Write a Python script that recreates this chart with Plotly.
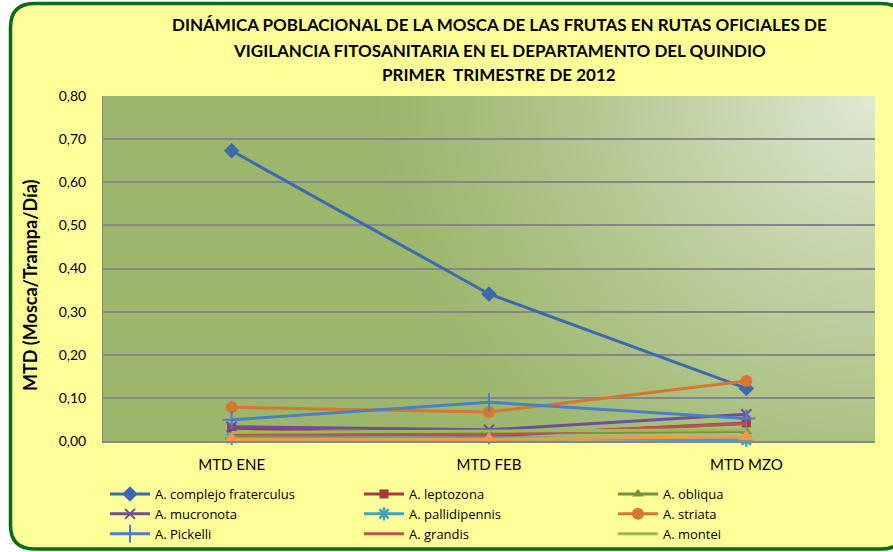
import base64, struct, zlib
import numpy as np
import plotly.graph_objects as go

# ---------------- data ----------------
months = ["MTD ENE", "MTD FEB", "MTD MZO"]
series_names = ["A. complejo fraterculus", "A. leptozona", "A. obliqua", "A. mucronota",
                "A. pallidipennis", "A. striata", "A. Pickelli", "A. grandis", "A. montei"]
fraterculus = [0.673, 0.341, 0.122]
leptozona = [0.030, 0.012, 0.042]
obliqua = [0.010, 0.018, 0.022]
mucronota = [0.033, 0.026, 0.062]
pallidipennis = [0.006, 0.008, 0.002]
striata = [0.078, 0.067, 0.139]
pickelli = [0.049, 0.090, 0.052]
grandis = [0.017, 0.014, 0.040]
montei = [0.020, 0.023, 0.026]
extra_series = [0.004, 0.004, 0.010]   # orange series drawn without legend entry
tick_vals = [0.0, 0.1, 0.2, 0.3, 0.4, 0.5, 0.6, 0.7, 0.8]

# ---------------- layout geometry (pixels) ----------------
W, H = 893, 552
L, R, T, B = 103, 875, 96, 441
pw, ph = R - L, B - T


def px(x):
    return (x - L) / pw


def py(y):
    return (B - y) / ph


FONT = "Lato"
LFONT = "Open Sans"

fig = go.Figure()

styles = [
    (fraterculus, "#3D6AAF", dict(symbol="diamond", size=12), "legend"),
    (leptozona, "#A33B3B", dict(symbol="square", size=9), "legend2"),
    (obliqua, "#77933C", dict(symbol="triangle-up", size=10), "legend3"),
    (mucronota, "#6E4E9E", dict(symbol="x-thin-open", size=10, line=dict(width=2, color="#6E4E9E")), "legend"),
    (pallidipennis, "#3DA4C2", dict(symbol="asterisk-open", size=11, line=dict(width=2.5, color="#3DA4C2")), "legend2"),
    (striata, "#D7772E", dict(symbol="circle", size=12), "legend3"),
    (pickelli, "#4C80C6", dict(symbol="cross-thin-open", size=13, line=dict(width=2, color="#4C80C6")), "legend"),
    (grandis, "#C0504D", None, "legend2"),
    (montei, "#9BBB59", None, "legend3"),
]

for name, (vals, col, mk, lg) in zip(series_names, styles):
    if mk is None:
        fig.add_trace(go.Scatter(x=months, y=vals, name=name, mode="lines", legend=lg,
                                 cliponaxis=False, line=dict(color=col, width=3)))
    else:
        m = dict(color=col)
        m.update(mk)
        fig.add_trace(go.Scatter(x=months, y=vals, name=name, mode="lines+markers", legend=lg,
                                 cliponaxis=False, line=dict(color=col, width=3), marker=m))

fig.add_trace(go.Scatter(x=months, y=extra_series, name="", mode="lines+markers",
                         showlegend=False, cliponaxis=False, line=dict(color="#F79646", width=3),
                         marker=dict(symbol="triangle-up", size=14, color="#F79646")))

# ---------------- gradient background image for plot area ----------------
gw, gh = 193, 86
u = (np.arange(gw) + 0.5) / gw
w = (np.arange(gh) + 0.5) / gh
U, Wm = np.meshgrid(u, w)
d = np.sqrt(((1 - U) * pw) ** 2 + (Wm * ph) ** 2)
t = np.clip(1 - d / 520.0, 0, 1) ** 1.3
dark = np.array([156, 182, 108], float)
light = np.array([224, 234, 214], float)
img = (dark[None, None, :] + (light - dark)[None, None, :] * t[..., None]).astype(np.uint8)


def png_bytes(a):
    h, wdt, _ = a.shape
    raw = b"".join(b"\x00" + a[i].tobytes() for i in range(h))

    def chunk(tag, data):
        c = struct.pack(">I", len(data)) + tag + data
        return c + struct.pack(">I", zlib.crc32(tag + data) & 0xFFFFFFFF)
    return (b"\x89PNG\r\n\x1a\n" + chunk(b"IHDR", struct.pack(">IIBBBBB", wdt, h, 8, 2, 0, 0, 0))
            + chunk(b"IDAT", zlib.compress(raw, 9)) + chunk(b"IEND", b""))


src = "data:image/png;base64," + base64.b64encode(png_bytes(img)).decode()
fig.add_layout_image(dict(source=src, xref="paper", yref="paper", x=0, y=1, sizex=1, sizey=1,
                          sizing="stretch", layer="below", xanchor="left", yanchor="top"))

# ---------------- outer rounded border ----------------
bx0, by0, bx1, by1, rad = 10.5, 3.5, 905, 549, 24


def rr_path(x0, y0, x1, y1, r):
    return (f"M {px(x0 + r)},{py(y0)} L {px(x1 - r)},{py(y0)} "
            f"Q {px(x1)},{py(y0)} {px(x1)},{py(y0 + r)} L {px(x1)},{py(y1 - r)} "
            f"Q {px(x1)},{py(y1)} {px(x1 - r)},{py(y1)} L {px(x0 + r)},{py(y1)} "
            f"Q {px(x0)},{py(y1)} {px(x0)},{py(y1 - r)} L {px(x0)},{py(y0 + r)} "
            f"Q {px(x0)},{py(y0)} {px(x0 + r)},{py(y0)} Z")


outer = f"M {px(-5)},{py(-5)} L {px(W + 20)},{py(-5)} L {px(W + 20)},{py(H + 5)} L {px(-5)},{py(H + 5)} Z "
fig.add_shape(type="path", path=outer + rr_path(bx0, by0, bx1, by1, rad), xref="paper", yref="paper",
              fillrule="evenodd", fillcolor="white", line=dict(width=0), layer="below")
fig.add_shape(type="path", path=rr_path(bx0, by0, bx1, by1, rad), xref="paper", yref="paper",
              line=dict(color="#0B6A12", width=3.5), layer="above")

# ---------------- titles ----------------
titles = [("DINÁMICA POBLACIONAL DE LA MOSCA DE LAS FRUTAS EN RUTAS OFICIALES DE", 25),
          ("VIGILANCIA FITOSANITARIA EN EL DEPARTAMENTO DEL QUINDIO", 50),
          ("PRIMER  TRIMESTRE DE 2012", 75)]
for txt, yy in titles:
    fig.add_annotation(text=f"<b>{txt}</b>", x=px(499), y=py(yy), xref="paper", yref="paper",
                       showarrow=False, xanchor="center", yanchor="middle",
                       font=dict(family=FONT, size=17, color="#000000"))

fig.add_annotation(text="<b>MTD (Mosca/Trampa/Día)</b>", x=px(30), y=py(286), xref="paper", yref="paper",
                   showarrow=False, textangle=-90, xanchor="center", yanchor="middle",
                   font=dict(family=FONT, size=18, color="#000000"))

leg_common = dict(orientation="v", xref="container", yref="container", xanchor="left", yanchor="top",
                  bgcolor="rgba(0,0,0,0)", font=dict(family=LFONT, size=13, color="#000000"),
                  traceorder="normal", itemwidth=40, tracegroupgap=0)
leg_top = 1 - 479 / H

fig.update_layout(
    width=W, height=H,
    margin=dict(l=L, r=W - R, t=T, b=H - B, pad=0, autoexpand=False),
    paper_bgcolor="#FFFF99",
    plot_bgcolor="#9CB66C",
    separators=",.",
    font=dict(family=FONT, size=14, color="#000000"),
    showlegend=True,
    legend=dict(x=105 / W, y=leg_top, **leg_common),
    legend2=dict(x=359 / W, y=leg_top, **leg_common),
    legend3=dict(x=613 / W, y=leg_top, **leg_common),
    xaxis=dict(type="category", range=[-0.5, 2.5], showgrid=False, showline=True,
               linecolor="#868686", linewidth=1.5, ticks="outside", ticklen=9,
               tickcolor="rgba(0,0,0,0)", tickfont=dict(family=FONT, size=15), zeroline=False),
    yaxis=dict(range=[0, 0.8], tickvals=tick_vals, tickformat=".2f", showgrid=True,
               gridcolor="#868686", gridwidth=1.5, showline=True, linecolor="#868686",
               linewidth=1, ticks="outside", ticklen=13, tickcolor="rgba(0,0,0,0)",
               tickfont=dict(family=FONT, size=14), zeroline=False),
)

fig.write_html("out.html", config={"displayModeBar": False},
               post_script="document.body.style.margin='0';document.body.style.overflow='hidden';")
